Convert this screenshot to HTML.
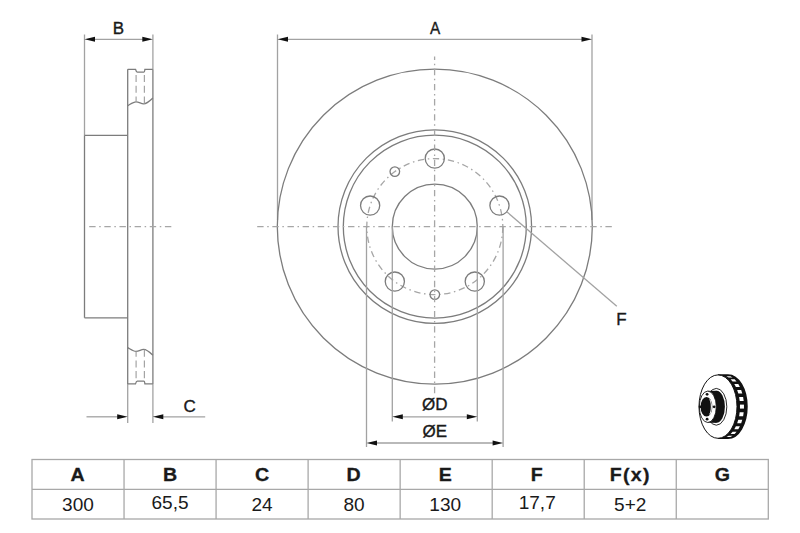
<!DOCTYPE html>
<html><head><meta charset="utf-8"><style>
html,body{margin:0;padding:0;background:#fff;}
svg{display:block;}
text{font-family:"Liberation Sans",sans-serif;fill:#1a1a1a;}
</style></head><body>
<svg width="800" height="533" viewBox="0 0 800 533">
<line x1="84.5" y1="34.5" x2="84.5" y2="135.4" stroke="#a2a2a2" stroke-width="1.3" fill="none"/>
<line x1="152.9" y1="34.5" x2="152.9" y2="69.3" stroke="#a2a2a2" stroke-width="1.3" fill="none"/>
<line x1="152.9" y1="69.3" x2="152.9" y2="383.9" stroke="#7c7c7c" stroke-width="1.3" fill="none"/>
<line x1="152.9" y1="383.9" x2="152.9" y2="423" stroke="#a2a2a2" stroke-width="1.3" fill="none"/>
<line x1="127.7" y1="69.3" x2="127.7" y2="383.9" stroke="#7c7c7c" stroke-width="1.3" fill="none"/>
<line x1="127.7" y1="383.9" x2="127.7" y2="423" stroke="#a2a2a2" stroke-width="1.3" fill="none"/>
<line x1="84.5" y1="135.4" x2="127.7" y2="135.4" stroke="#7c7c7c" stroke-width="1.3" fill="none"/>
<line x1="84.5" y1="317.8" x2="127.7" y2="317.8" stroke="#7c7c7c" stroke-width="1.3" fill="none"/>
<line x1="84.5" y1="135.4" x2="84.5" y2="317.8" stroke="#7c7c7c" stroke-width="1.3" fill="none"/>
<line x1="94" y1="39.3" x2="143" y2="39.3" stroke="#a2a2a2" stroke-width="1.3" fill="none"/>
<path d="M84.5,39.3 L95.0,36.8 L95.0,41.8 Z" fill="#111"/>
<path d="M152.8,39.3 L142.3,36.8 L142.3,41.8 Z" fill="#111"/>
<text x="118.5" y="34.4" font-size="17" text-anchor="middle" stroke="#1a1a1a" stroke-width="0.35">B</text>
<path d="M127.7,69.3 L135.5,69.3 Q136.3,72.1 137.3,72.1 L143.8,72.1 Q144.6,72.1 144.9,69.3 L152.8,69.3" stroke="#7c7c7c" stroke-width="1.3" fill="none"/><path d="M127.7,105.6 C131,103.7 133.5,101.8 136,101.8 C139,101.8 141,103.8 143.6,103.8 C147,103.8 150,100.7 152.8,98" stroke="#7c7c7c" stroke-width="1.3" fill="none"/><line x1="136.1" y1="75" x2="136.1" y2="101.8" stroke="#a4a4a4" stroke-width="1.2" stroke-dasharray="7.1 3.6"/><line x1="144.4" y1="75" x2="144.4" y2="103.8" stroke="#a4a4a4" stroke-width="1.2" stroke-dasharray="7.1 3.6"/>
<g transform="translate(0,453.2) scale(1,-1)"><path d="M127.7,69.3 L135.5,69.3 Q136.3,72.1 137.3,72.1 L143.8,72.1 Q144.6,72.1 144.9,69.3 L152.8,69.3" stroke="#7c7c7c" stroke-width="1.3" fill="none"/><path d="M127.7,105.6 C131,103.7 133.5,101.8 136,101.8 C139,101.8 141,103.8 143.6,103.8 C147,103.8 150,100.7 152.8,98" stroke="#7c7c7c" stroke-width="1.3" fill="none"/><line x1="136.1" y1="75" x2="136.1" y2="101.8" stroke="#a4a4a4" stroke-width="1.2" stroke-dasharray="7.1 3.6"/><line x1="144.4" y1="75" x2="144.4" y2="103.8" stroke="#a4a4a4" stroke-width="1.2" stroke-dasharray="7.1 3.6"/></g>
<line x1="89.2" y1="226.6" x2="171.5" y2="226.6" stroke="#a6a6a6" stroke-width="1.3" fill="none" stroke-dasharray="6.4 3.62 1.5 3.62"/>
<line x1="86.5" y1="416.8" x2="118" y2="416.8" stroke="#a2a2a2" stroke-width="1.3" fill="none"/>
<path d="M127.7,416.8 L117.2,414.3 L117.2,419.3 Z" fill="#111"/>
<line x1="163" y1="416.8" x2="205.2" y2="416.8" stroke="#a2a2a2" stroke-width="1.3" fill="none"/>
<path d="M152.8,416.8 L163.3,414.3 L163.3,419.3 Z" fill="#111"/>
<text x="189.6" y="412" font-size="17" text-anchor="middle" stroke="#1a1a1a" stroke-width="0.35">C</text>
<line x1="277.5" y1="34.5" x2="277.5" y2="220" stroke="#a2a2a2" stroke-width="1.3" fill="none"/>
<line x1="592" y1="34.5" x2="592" y2="220" stroke="#a2a2a2" stroke-width="1.3" fill="none"/>
<line x1="287" y1="39.3" x2="583" y2="39.3" stroke="#a2a2a2" stroke-width="1.3" fill="none"/>
<path d="M277.5,39.3 L288.0,36.8 L288.0,41.8 Z" fill="#111"/>
<path d="M592,39.3 L581.5,36.8 L581.5,41.8 Z" fill="#111"/>
<text transform="translate(435.2,34.3) scale(0.9,1)" font-size="17" text-anchor="middle" stroke="#1a1a1a" stroke-width="0.35">A</text>
<circle cx="434.8" cy="226.6" r="157.5" stroke="#7c7c7c" stroke-width="1.3" fill="none"/>
<circle cx="434.8" cy="226.6" r="96.8" stroke="#7c7c7c" stroke-width="1.3" fill="none"/>
<circle cx="434.8" cy="226.6" r="91.5" stroke="#7c7c7c" stroke-width="1.3" fill="none"/>
<circle cx="434.8" cy="226.6" r="42.5" stroke="#7c7c7c" stroke-width="1.3" fill="none"/>
<circle cx="434.8" cy="226.6" r="68" stroke="#a6a6a6" stroke-width="1.3" fill="none" stroke-dasharray="6.4 3.62 1.5 3.62"/>
<circle cx="434.80" cy="158.60" r="9.6" stroke="#7c7c7c" stroke-width="1.3" fill="none"/>
<circle cx="499.47" cy="205.59" r="9.6" stroke="#7c7c7c" stroke-width="1.3" fill="none"/>
<circle cx="370.13" cy="205.59" r="9.6" stroke="#7c7c7c" stroke-width="1.3" fill="none"/>
<circle cx="474.77" cy="281.61" r="9.6" stroke="#7c7c7c" stroke-width="1.3" fill="none"/>
<circle cx="394.83" cy="281.61" r="9.6" stroke="#7c7c7c" stroke-width="1.3" fill="none"/>
<circle cx="394.83" cy="171.59" r="4.8" stroke="#7c7c7c" stroke-width="1.3" fill="none"/>
<circle cx="434.80" cy="294.60" r="4.8" stroke="#7c7c7c" stroke-width="1.3" fill="none"/>
<line x1="257.2" y1="226.6" x2="612.5" y2="226.6" stroke="#a6a6a6" stroke-width="1.3" fill="none" stroke-dasharray="6.4 3.62 1.5 3.62"/>
<line x1="434.6" y1="56.5" x2="434.6" y2="393.3" stroke="#a6a6a6" stroke-width="1.3" fill="none" stroke-dasharray="6.4 3.62 1.5 3.62" stroke-dashoffset="2.84"/>
<line x1="392.3" y1="226.6" x2="392.3" y2="421.6" stroke="#a2a2a2" stroke-width="1.3" fill="none"/>
<line x1="477.3" y1="226.6" x2="477.3" y2="421.6" stroke="#a2a2a2" stroke-width="1.3" fill="none"/>
<line x1="366.5" y1="226.6" x2="366.5" y2="447" stroke="#a2a2a2" stroke-width="1.3" fill="none"/>
<line x1="503.1" y1="226.6" x2="503.1" y2="447" stroke="#a2a2a2" stroke-width="1.3" fill="none"/>
<line x1="402" y1="416.8" x2="468" y2="416.8" stroke="#a2a2a2" stroke-width="1.3" fill="none"/>
<path d="M392.3,416.8 L402.8,414.3 L402.8,419.3 Z" fill="#111"/>
<path d="M477.3,416.8 L466.8,414.3 L466.8,419.3 Z" fill="#111"/>
<line x1="376" y1="443" x2="494" y2="443" stroke="#a2a2a2" stroke-width="1.3" fill="none"/>
<path d="M366.5,443 L377.0,440.5 L377.0,445.5 Z" fill="#111"/>
<path d="M503.1,443 L492.6,440.5 L492.6,445.5 Z" fill="#111"/>
<text x="434.8" y="409.7" font-size="17" text-anchor="middle" stroke="#1a1a1a" stroke-width="0.35">ØD</text>
<text x="434.8" y="436.8" font-size="17" text-anchor="middle" stroke="#1a1a1a" stroke-width="0.35">ØE</text>
<line x1="506.5" y1="211.5" x2="616.8" y2="306.3" stroke="#a2a2a2" stroke-width="1.3" fill="none"/>
<text x="621.5" y="325" font-size="17" text-anchor="middle" stroke="#1a1a1a" stroke-width="0.35">F</text>
<rect x="32" y="459.5" width="736.3" height="59.5" stroke="#a8a8a8" stroke-width="1.3" fill="none"/>
<line x1="32" y1="489.3" x2="768.3" y2="489.3" stroke="#a8a8a8" stroke-width="1.3" fill="none"/>
<text transform="translate(77.52,481.3) scale(1.06,1)" font-size="18.5" font-weight="bold" text-anchor="middle" stroke="#1a1a1a" stroke-width="0.3">A</text>
<text transform="translate(78.02,510.6) scale(1.06,1)" font-size="18" text-anchor="middle">300</text>
<line x1="124.04" y1="459.5" x2="124.04" y2="519" stroke="#a8a8a8" stroke-width="1.3" fill="none"/>
<text transform="translate(170.06,481.3) scale(1.06,1)" font-size="18.5" font-weight="bold" text-anchor="middle" stroke="#1a1a1a" stroke-width="0.3">B</text>
<text transform="translate(170.06,508.6) scale(1.06,1)" font-size="18" text-anchor="middle">65,5</text>
<line x1="216.07" y1="459.5" x2="216.07" y2="519" stroke="#a8a8a8" stroke-width="1.3" fill="none"/>
<text transform="translate(262.09,481.3) scale(1.06,1)" font-size="18.5" font-weight="bold" text-anchor="middle" stroke="#1a1a1a" stroke-width="0.3">C</text>
<text transform="translate(262.09,510.6) scale(1.06,1)" font-size="18" text-anchor="middle">24</text>
<line x1="308.11" y1="459.5" x2="308.11" y2="519" stroke="#a8a8a8" stroke-width="1.3" fill="none"/>
<text transform="translate(353.53,481.3) scale(1.06,1)" font-size="18.5" font-weight="bold" text-anchor="middle" stroke="#1a1a1a" stroke-width="0.3">D</text>
<text transform="translate(354.13,510.6) scale(1.06,1)" font-size="18" text-anchor="middle">80</text>
<line x1="400.15" y1="459.5" x2="400.15" y2="519" stroke="#a8a8a8" stroke-width="1.3" fill="none"/>
<text transform="translate(445.17,481.3) scale(1.06,1)" font-size="18.5" font-weight="bold" text-anchor="middle" stroke="#1a1a1a" stroke-width="0.3">E</text>
<text transform="translate(445.17,510.6) scale(1.06,1)" font-size="18" text-anchor="middle">130</text>
<line x1="492.19" y1="459.5" x2="492.19" y2="519" stroke="#a8a8a8" stroke-width="1.3" fill="none"/>
<text transform="translate(536.71,481.3) scale(1.06,1)" font-size="18.5" font-weight="bold" text-anchor="middle" stroke="#1a1a1a" stroke-width="0.3">F</text>
<text transform="translate(537.21,509.0) scale(1.06,1)" font-size="18" text-anchor="middle">17,7</text>
<line x1="584.22" y1="459.5" x2="584.22" y2="519" stroke="#a8a8a8" stroke-width="1.3" fill="none"/>
<text transform="translate(630.24,480.5) scale(1.06,1)" font-size="18.5" font-weight="bold" text-anchor="middle" stroke="#1a1a1a" stroke-width="0.3" letter-spacing="1.2">F(x)</text>
<text transform="translate(630.24,510.6) scale(1.06,1)" font-size="18" text-anchor="middle">5+2</text>
<line x1="676.26" y1="459.5" x2="676.26" y2="519" stroke="#a8a8a8" stroke-width="1.3" fill="none"/>
<text transform="translate(722.28,481.3) scale(1.06,1)" font-size="18.5" font-weight="bold" text-anchor="middle" stroke="#1a1a1a" stroke-width="0.3">G</text>
<path d="M718,374.90000000000003 L728,374.90000000000003 A19,31.7 0 0 1 728,438.3 L718,438.3 A19,31.7 0 0 0 718,374.90000000000003 Z" fill="#111" stroke="#111" stroke-width="1.5"/>
<path d="M726.36,376.19 L728.61,377.55 L732.61,377.55 L730.36,376.19 Z" fill="#fff"/>
<path d="M730.61,379.26 L732.59,381.48 L736.59,381.48 L734.61,379.26 Z" fill="#fff"/>
<path d="M734.29,383.95 L735.89,386.91 L739.89,386.91 L738.29,383.95 Z" fill="#fff"/>
<path d="M737.18,389.99 L738.30,393.50 L742.30,393.50 L741.18,389.99 Z" fill="#fff"/>
<path d="M739.11,397.01 L739.69,400.88 L743.69,400.88 L743.11,397.01 Z" fill="#fff"/>
<path d="M739.96,404.61 L739.96,408.59 L743.96,408.59 L743.96,404.61 Z" fill="#fff"/>
<path d="M739.69,412.32 L739.11,416.19 L743.11,416.19 L743.69,412.32 Z" fill="#fff"/>
<path d="M738.30,419.70 L737.18,423.21 L741.18,423.21 L742.30,419.70 Z" fill="#fff"/>
<path d="M735.89,426.29 L734.29,429.25 L738.29,429.25 L739.89,426.29 Z" fill="#fff"/>
<path d="M732.59,431.72 L730.61,433.94 L734.61,433.94 L736.59,431.72 Z" fill="#fff"/>
<path d="M728.61,435.65 L726.36,437.01 L730.36,437.01 L732.61,435.65 Z" fill="#fff"/>
<ellipse cx="718" cy="406.6" rx="19" ry="31.7" fill="#fff" stroke="#111" stroke-width="1"/>
<ellipse cx="716.3" cy="406.8" rx="10.5" ry="18.4" fill="#fff" stroke="#111" stroke-width="0.9"/>
<ellipse cx="716.6" cy="406.8" rx="8.3" ry="16" fill="#111"/>
<rect x="707.8" y="390.8" width="8.8" height="32" fill="#111"/>
<ellipse cx="707.8" cy="406.8" rx="8.5" ry="15.7" fill="#fff" stroke="#111" stroke-width="0.9"/>
<ellipse cx="706.5" cy="406.8" rx="5.9" ry="9.8" fill="#111"/>
<ellipse cx="709.6" cy="406.8" rx="2.3" ry="7.6" fill="#fff"/>
<ellipse cx="708.5" cy="406.8" rx="2.3" ry="7.8" fill="#111"/>
<circle cx="707.1" cy="394.3" r="1.4" fill="#111"/>
<circle cx="700.2" cy="406.8" r="1.4" fill="#111"/>
<circle cx="714.2" cy="406.8" r="1.4" fill="#111"/>
<circle cx="707.1" cy="419.2" r="1.4" fill="#111"/>
</svg>
</body></html>
